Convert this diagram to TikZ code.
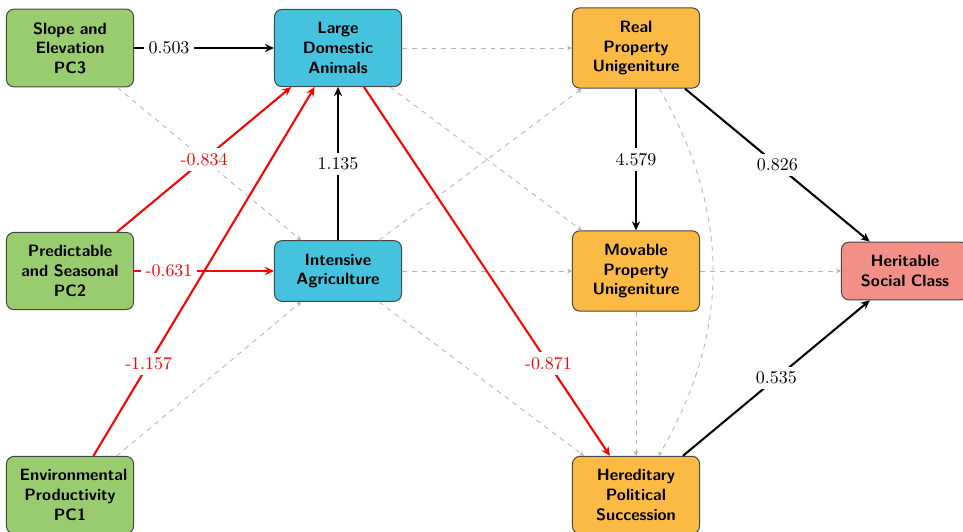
\documentclass[11pt,tikz,border=0pt]{standalone}
\usetikzlibrary{arrows.meta}
\definecolor{envgreen}{RGB}{152,204,110}
\definecolor{subcyan}{RGB}{69,195,222}
\definecolor{inhorange}{RGB}{251,186,68}
\definecolor{classsalmon}{RGB}{242,143,134}
\definecolor{boxborder}{RGB}{70,70,70}
\definecolor{dashgray}{RGB}{180,180,180}
\definecolor{negred}{RGB}{255,0,0}
\begin{document}
\begin{tikzpicture}[x=0.61pt,y=-0.61pt,
  box/.style={draw=boxborder, line width=0.6pt, rounded corners=4.5pt,
    align=center, text width=61.5pt, inner sep=8pt,
    font=\small\sffamily\bfseries},
  envbox/.style={box, fill=envgreen},
  subbox/.style={box, fill=subcyan},
  inhbox/.style={box, fill=inhorange},
  classbox/.style={box, fill=classsalmon},
  posedge/.style={line width=1.25pt, black, -{Stealth[length=5.5pt,width=5pt]}},
  negedge/.style={line width=1.25pt, negred, -{Stealth[length=5.5pt,width=5pt]}},
  nsedge/.style={line width=0.5pt, dashgray, dashed, -{Stealth[length=3pt,width=3pt]}},
  lbl/.style={fill=white, inner sep=3pt, font=\normalsize},
  nlbl/.style={lbl, text=negred}
]
\useasboundingbox (0,0) rectangle (963,532);

% nodes
\node[envbox] (S3) at (70,48) {Slope and\\Elevation\\PC3};
\node[envbox] (P2) at (70,271) {Predictable\\and Seasonal\\PC2};
\node[envbox] (E1) at (70,495) {Environmental\\Productivity\\PC1};
\node[subbox] (LDA) at (338,48) {Large\\Domestic\\Animals};
\node[subbox] (IA) at (338,271) {Intensive\\Agriculture};
\node[inhbox] (RPU) at (636,48) {Real\\Property\\Unigeniture};
\node[inhbox] (MPU) at (636,271) {Movable\\Property\\Unigeniture};
\node[inhbox] (HPS) at (636,495) {Hereditary\\Political\\Succession};
\node[classbox] (HSC) at (905,271) {Heritable\\Social Class};

% non-significant paths
\draw[nsedge] (LDA) -- (RPU);
\draw[nsedge] (S3) -- (IA);
\draw[nsedge] (E1) -- (IA);
\draw[nsedge] (LDA) -- (MPU);
\draw[nsedge] (IA) -- (RPU);
\draw[nsedge] (IA) -- (MPU);
\draw[nsedge] (IA) -- (HPS);
\draw[nsedge] (MPU) -- (HSC);
\draw[nsedge] (MPU) -- (HPS);
\draw[nsedge] (RPU) to[bend left=30] (HPS);

% significant paths
\draw[posedge] (S3) -- node[lbl,pos=0.25] {0.503} (LDA);
\draw[negedge] (P2) -- node[nlbl] {-0.834} (LDA);
\draw[negedge] (E1) -- node[nlbl,pos=0.25] {-1.157} (LDA);
\draw[negedge] (P2) -- node[nlbl,pos=0.25] {-0.631} (IA);
\draw[posedge] (IA) -- node[lbl] {1.135} (LDA);
\draw[negedge] (LDA) -- node[nlbl,pos=0.75] {-0.871} (HPS);
\draw[posedge] (RPU) -- node[lbl] {4.579} (MPU);
\draw[posedge] (RPU) -- node[lbl] {0.826} (HSC);
\draw[posedge] (HPS) -- node[lbl] {0.535} (HSC);
\end{tikzpicture}
\end{document}
